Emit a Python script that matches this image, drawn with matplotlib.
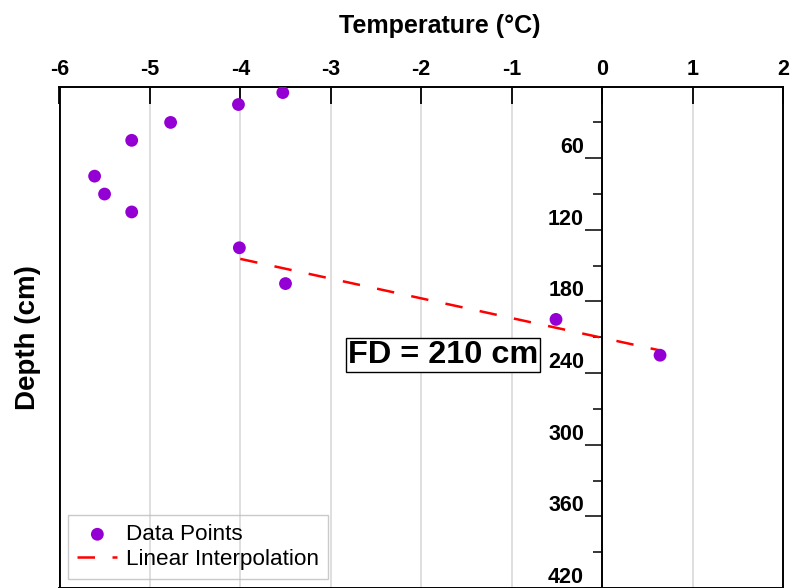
import matplotlib
matplotlib.use("Agg")
import matplotlib.pyplot as plt

plt.rcParams['font.family'] = ['Liberation Sans', 'DejaVu Sans']

# ---- data ----
temps = [-3.53, -4.02, -4.77, -5.20, -5.61, -5.50, -5.20, -4.01, -3.50, -0.51, 0.64]
depths = [5, 15, 30, 45, 75, 90, 105, 135, 165, 195, 225]
interp_temps = [-4.0, 0.64]
interp_depths = [144.3, 221.0]
x_ticks = [-6, -5, -4, -3, -2, -1, 0, 1, 2]
y_major = [60, 120, 180, 240, 300, 360, 420]
y_minor = [30, 90, 150, 210, 270, 330, 390]
fd_text = "FD = 210 cm"
fd_pos = (-1.76, 231.5)

fig = plt.figure(figsize=(7.91, 5.88), dpi=100)
ax = fig.add_axes([0.075, 0.0, 0.915, 0.8527])

ax.set_xlim(-6, 2)
ax.set_ylim(420, 0)

# grid
ax.set_xticks(x_ticks)
ax.grid(axis='x', color='#d6d6d6', lw=1.1, zorder=0)
ax.set_axisbelow(True)

# data
ax.plot(interp_temps, interp_depths, color='#ff0000', lw=1.8,
        dashes=(7, 7), label='Linear Interpolation', zorder=2)
ax.scatter(temps, depths, s=85, color='#9400d3', edgecolors='none',
           label='Data Points', zorder=3)

# x axis on top
ax.xaxis.tick_top()
ax.xaxis.set_label_position('top')
ax.tick_params(axis='x', direction='in', length=12, width=1.3, pad=5,
               labelsize=15.5, bottom=False, top=True)
ax.set_xticklabels([str(v) for v in x_ticks], fontweight='bold')
ax.set_xlabel('Temperature (°C)', fontsize=18, fontweight='bold')
ax.xaxis.set_label_coords(0.526, 1.107)

# y axis spine at x = 0
ax.spines['left'].set_position(('data', 0))
ax.set_yticks(y_major)
ax.set_yticks(y_minor, minor=True)
ax.set_yticklabels([str(v) for v in y_major], fontweight='bold', fontsize=15.5)
ax.tick_params(axis='y', which='major', direction='out', length=12, width=1.1, pad=1)
ax.tick_params(axis='y', which='minor', direction='out', length=6.5, width=1.1)
for lbl in ax.get_yticklabels():
    lbl.set_va('bottom')
ax.set_ylabel('Depth (cm)', fontsize=20, fontweight='bold')
ax.yaxis.set_label_coords(-0.026, 0.5)

for s in ['top', 'right', 'left', 'bottom']:
    ax.spines[s].set_linewidth(1.4)
    ax.spines[s].set_color('black')
# left frame edge at x = -6
ax.axvline(-6, color='black', lw=2.8, clip_on=True, zorder=5)

# FD annotation
ax.text(fd_pos[0], fd_pos[1], fd_text, fontsize=23.4, fontweight='bold',
        ha='center', va='baseline', zorder=4,
        bbox=dict(boxstyle='square,pad=0.06', facecolor='white',
                  edgecolor='black', lw=1.0))

# legend
handles, labels = ax.get_legend_handles_labels()
order = [1, 0]
leg = ax.legend([handles[i] for i in order], [labels[i] for i in order],
                loc='lower left', fontsize=16.2, frameon=True, fancybox=False,
                scatterpoints=1, handlelength=1.78, handletextpad=0.4,
                borderpad=0.4, labelspacing=0.17, borderaxespad=0.4)
leg.get_frame().set_facecolor('none')
leg.get_frame().set_edgecolor('#bdbdbd')
leg.get_frame().set_linewidth(1.0)

fig.savefig('out.png', dpi=100)
